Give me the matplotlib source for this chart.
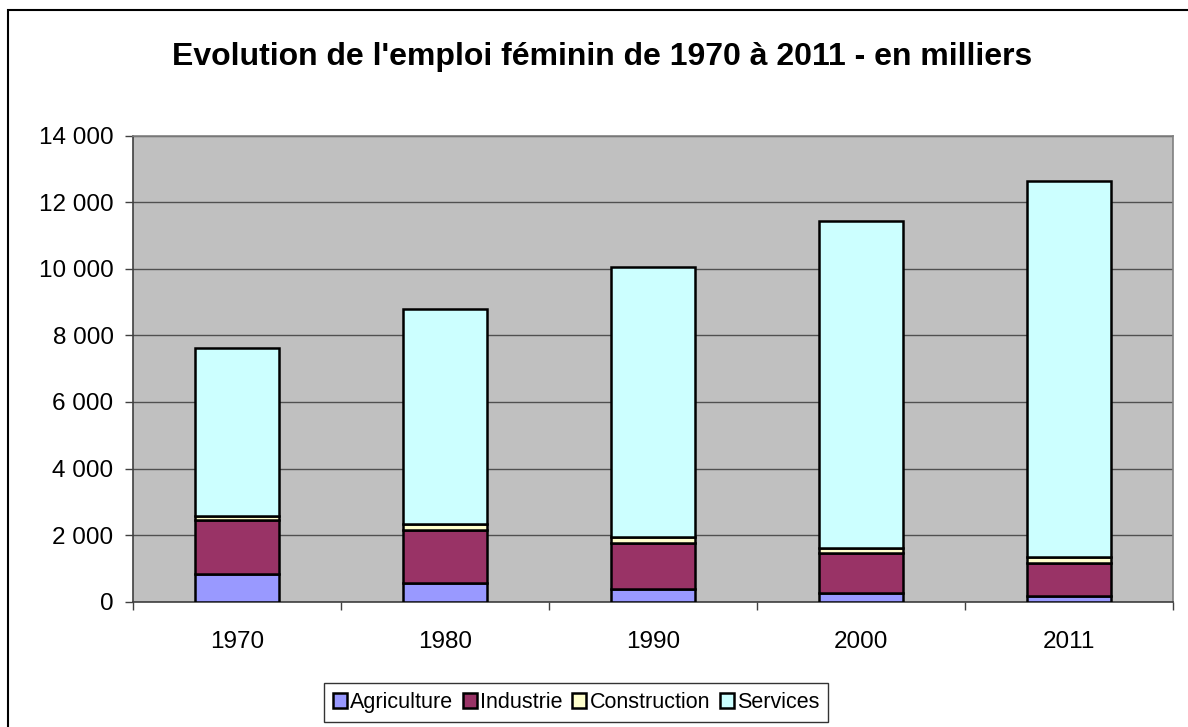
import numpy as np
import matplotlib
matplotlib.use('Agg')
import matplotlib.pyplot as plt
from matplotlib.patches import Rectangle
from matplotlib.ticker import FuncFormatter, MultipleLocator

# data (thousands)
years = ['1970', '1980', '1990', '2000', '2011']
agriculture = [820, 565, 370, 250, 165]
industrie = [1620, 1585, 1400, 1200, 1000]
construction = [120, 180, 180, 160, 180]
services = [5060, 6470, 8110, 9830, 11300]

series = [('Agriculture', agriculture, '#9999FF'),
          ('Industrie', industrie, '#993366'),
          ('Construction', construction, '#FFFFCC'),
          ('Services', services, '#CCFFFF')]

plt.rcParams['font.family'] = ['Liberation Sans', 'DejaVu Sans']

W, H = 1188, 727
fig = plt.figure(figsize=(W / 100, H / 100), dpi=100)

# outer chart frame (runs off the right/bottom of the image)
fig.patches.append(Rectangle((8 / W, 0 - 0.05), 1.1, 1 - 10 / H + 0.05,
                             transform=fig.transFigure, fill=False,
                             edgecolor='black', linewidth=1.5))

ax = fig.add_axes([133 / W, 1 - 601.7 / H, (1173 - 133) / W, (601.7 - 135.7) / H])
ax.set_facecolor('#C0C0C0')

x = np.arange(len(years))
bottom = np.zeros(len(years))
for name, vals, col in series:
    ax.bar(x, vals, width=0.4, bottom=bottom, color=col, edgecolor='black',
           linewidth=1.8, label=name, zorder=3)
    bottom += np.array(vals)

ax.set_xlim(-0.5, len(years) - 0.5)
ax.set_ylim(0, 14000)
ax.yaxis.set_major_locator(MultipleLocator(2000))
ax.yaxis.set_major_formatter(FuncFormatter(lambda v, p: '{:,}'.format(int(v)).replace(',', ' ')))
ax.yaxis.grid(True, color='#505050', linewidth=1, zorder=1)
ax.set_xticks(x)
ax.set_xticklabels(years)
ax.set_xticks(np.arange(len(years) + 1) - 0.5, minor=True)
ax.tick_params(axis='x', which='major', length=0, pad=21, labelsize=17.5)
ax.tick_params(axis='x', which='minor', length=6, width=1, color='#404040', direction='out')
ax.tick_params(axis='y', length=6, width=1, color='#404040', labelsize=17.5, pad=8)

for s in ['top', 'right']:
    ax.spines[s].set_color('#808080')
for s in ['left', 'bottom']:
    ax.spines[s].set_color('#404040')
for s in ax.spines.values():
    s.set_linewidth(1.2)

fig.text(602 / W, 1 - 57 / H, "Evolution de l'emploi féminin de 1970 à 2011 - en milliers",
         ha='center', va='center', fontsize=23, fontweight='bold')

leg = fig.legend(loc='upper center', bbox_to_anchor=(576 / W, 1 - 683 / H), ncol=4,
                 frameon=True, fancybox=False, edgecolor='black', fontsize=15.5,
                 handlelength=0.65, handleheight=0.65, handletextpad=0.15,
                 columnspacing=0.45, borderpad=0.42, borderaxespad=0)
leg.get_frame().set_linewidth(1.0)

plt.savefig('out.png', dpi=100)
plt.close()
